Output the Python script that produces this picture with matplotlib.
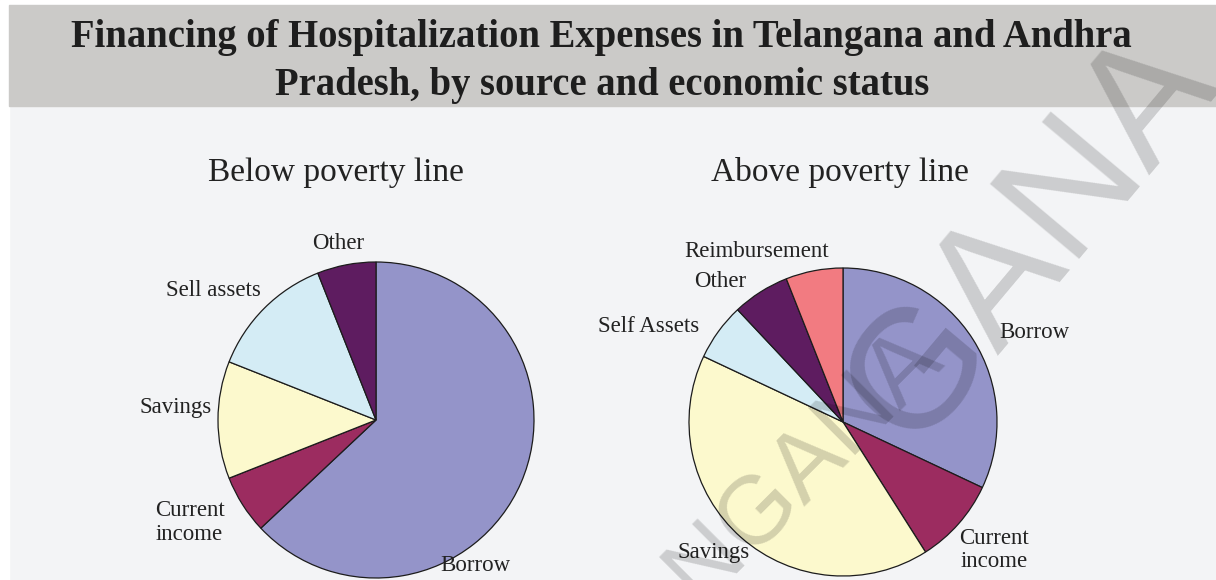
import matplotlib.pyplot as plt
from matplotlib.patches import Rectangle

W, H = 1216, 580

title_lines = ["Financing of Hospitalization Expenses in Telangana and Andhra",
               "Pradesh, by source and economic status"]
panel_titles = ["Below poverty line", "Above poverty line"]

# shares of hospitalization spending (%), clockwise from 12 o'clock
bpl_sources = ["Borrow", "Current\nincome", "Savings", "Sell assets", "Other"]
bpl_shares = [63, 6, 12, 13, 6]

apl_sources = ["Borrow", "Current\nincome", "Savings", "Self Assets", "Other", "Reimbursement"]
apl_shares = [32, 9, 41, 6, 6, 6]

colors = {
    "Borrow": "#9494c9",
    "Current\nincome": "#9c2c60",
    "Savings": "#fcf9cd",
    "Sell assets": "#d4ecf5",
    "Self Assets": "#d4ecf5",
    "Other": "#5e1c60",
    "Reimbursement": "#f27b81",
}

# label spots in pie units (radius = 1)
bpl_label_xy = [(0.63, -0.92), (-1.18, -0.65), (-1.27, 0.08), (-1.03, 0.82), (-0.24, 1.12)]
apl_label_xy = [(1.24, 0.58), (0.98, -0.83), (-0.84, -0.85), (-1.26, 0.62), (-0.80, 0.91), (-0.56, 1.11)]

serif = "Liberation Serif"

fig = plt.figure(figsize=(W / 100, H / 100), dpi=100, facecolor="#f3f4f6")


def px_box(cx, cy, r):
    return [(cx - r) / W, (H - cy - r) / H, 2 * r / W, 2 * r / H]


# white margins and grey title band
fig.patches.append(Rectangle((0, 0), 9 / W, 1, transform=fig.transFigure, color="white", zorder=0))
fig.patches.append(Rectangle((0, (H - 5) / H), 1, 5 / H, transform=fig.transFigure, color="white", zorder=0))
fig.patches.append(Rectangle((9 / W, (H - 106) / H), 1, 101 / H, transform=fig.transFigure,
                             color="#cbcac8", zorder=0))

fig.text(601 / W, (H - 47) / H, title_lines[0], ha="center", va="baseline",
         family=serif, fontweight="bold", fontsize=27.8, color="#1e1e1e")
fig.text(602 / W, (H - 95) / H, title_lines[1], ha="center", va="baseline",
         family=serif, fontweight="bold", fontsize=27.8, color="#1e1e1e")

pies = [
    (376, 420, 158, bpl_sources, bpl_shares, bpl_label_xy, 336),
    (843, 422, 154, apl_sources, apl_shares, apl_label_xy, 840),
]

pad = 1.02
for i, (cx, cy, r, sources, shares, label_xy, tx) in enumerate(pies):
    ax = fig.add_axes(px_box(cx, cy, r * pad))
    ax.pie(shares, colors=[colors[s] for s in sources], startangle=90, counterclock=False,
           wedgeprops=dict(edgecolor="#1c1c1c", linewidth=0.9))
    ax.set_xlim(-pad, pad)
    ax.set_ylim(-pad, pad)
    ax.axis("off")
    for name, (lx, ly) in zip(sources, label_xy):
        ax.text(lx, ly, name, ha="center", va="center", multialignment="center",
                family=serif, fontsize=16.5, color="#222222", linespacing=1.15, clip_on=False)
    fig.text(tx / W, (H - 181) / H, panel_titles[i], ha="center", va="baseline",
             family=serif, fontsize=24, color="#222222")

# watermarks
fig.text(1032 / W, (H - 238) / H, "GANA", rotation=50, rotation_mode="anchor",
         ha="center", va="center", family="Liberation Sans", fontsize=122,
         color="black", alpha=0.16, zorder=10)
fig.text(720 / W, (H - 553) / H, "TELANGANA", rotation=45, rotation_mode="anchor",
         ha="center", va="center", family="Liberation Sans", fontsize=70,
         color="black", alpha=0.16, zorder=10)

fig.savefig("out.png", dpi=100, facecolor=fig.get_facecolor())
